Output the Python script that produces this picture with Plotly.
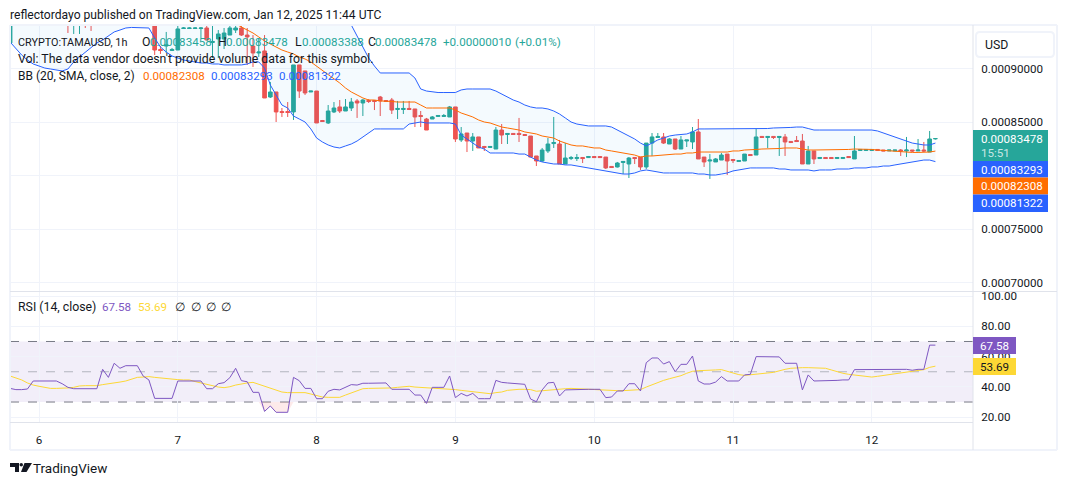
import pandas as pd
import plotly.graph_objects as go

UNIT = 1e-8
FONT = "Roboto"
WORD_SIZE = 12.3
DIGIT_SIZE = 11.6
INK = "#131722"
TEAL = "#26a69a"
RED = "#ef5350"
BLUE = "#2962ff"
ORANGE = "#ff6d00"
PURPLE = "#7e57c2"
YELLOW = "#fdd835"
GRID = "#f0f3fa"
FRAME = "#e0e3eb"

# Hourly TAMA/USD candles, prices in units of 1e-8
opens = [
    92430, 94580, 94400, 94300, 94800, 95100, 94800, 95000, 94600, 94400,
    95140, 94580, 95140, 95510, 95140, 94580, 95200, 95700, 95300, 95000,
    95500, 95900, 95400, 95700, 95200, 95700, 91820, 92140, 91720, 91770,
    93780, 93780, 93780, 93780, 93830, 92470, 92800, 92800, 93170, 93640,
    93830, 93170, 92140, 91490, 91680, 87370, 87840, 86010, 86010, 85970,
    90370, 89810, 87840, 87930, 85170, 84940, 85970, 86440, 86060, 86340,
    87000, 86810, 87040, 87040, 87370, 87040, 87090, 86200, 86200, 86300,
    86250, 85640, 85310, 85310, 85550, 85550, 85500, 86440, 83350, 84000,
    83250, 83630, 82740, 82650, 82500, 84280, 83860, 83960, 83960, 83860,
    83720, 81850, 81380, 82320, 83010, 82970, 81100, 81610, 81610, 81710,
    81700, 81800, 81800, 81750, 80870, 80820, 81240, 81100, 81710, 81750,
    80820, 83060, 83580, 83630, 82970, 83440, 82500, 83250, 83160, 84100,
    81750, 81380, 81290, 81470, 82030, 81520, 81330, 81380, 81990, 81940,
    83680, 83580, 83680, 83580, 83630, 83210, 83300, 83250, 81100, 82320,
    81610, 81710, 81710, 81610, 81610, 81800, 81570, 82360, 82360, 82360,
    82460, 82410, 82320, 82320, 82410, 82320, 82410, 82320, 82410, 82220,
    83458,
]
highs = [
    95050, 94800, 94700, 94900, 95300, 95400, 95200, 95200, 94900, 94700,
    95510, 95700, 95890, 95700, 95700, 95500, 95900, 96000, 95600, 95800,
    96200, 96100, 96000, 95900, 95900, 95980, 92140, 93460, 91960, 94020,
    93920, 93900, 93900, 93920, 94020, 94020, 93640, 93830, 94020, 94020,
    94020, 93830, 93170, 92890, 93170, 88780, 87840, 86340, 86900, 90370,
    90370, 89810, 87930, 87930, 85220, 86620, 86900, 87090, 87180, 87280,
    87180, 87180, 87180, 87090, 87470, 87090, 87280, 87000, 87000, 87000,
    86250, 86060, 85410, 85590, 85640, 85780, 86530, 86440, 84560, 84000,
    84000, 83630, 82790, 82740, 84560, 84840, 83960, 83960, 85410, 83860,
    83720, 81850, 82600, 83530, 85500, 83350, 83060, 81850, 82030, 81710,
    81850, 81800, 81800, 81750, 80870, 81290, 81340, 81750, 81710, 81750,
    83060, 84000, 84000, 84000, 83530, 83440, 83720, 83350, 84560, 85310,
    81750, 82030, 81660, 82130, 82030, 81520, 81430, 82030, 81990, 84380,
    83680, 83680, 83680, 83680, 83910, 83250, 83720, 83910, 82790, 82320,
    81710, 81710, 81710, 81750, 81750, 81800, 83720, 82460, 82460, 82460,
    82460, 82410, 82410, 82410, 82500, 83630, 82410, 83440, 83160, 84190,
    83478,
]
lows = [
    92240, 94300, 94150, 94200, 94700, 94700, 94500, 94400, 94200, 94100,
    93360, 93270, 93270, 93830, 93550, 94300, 95000, 95100, 94800, 94800,
    95300, 95200, 95100, 95000, 94900, 91300, 91400, 91490, 91680, 91770,
    93740, 93740, 93740, 92890, 92710, 91020, 91020, 91860, 93170, 93360,
    93080, 90370, 90180, 91120, 87280, 87280, 85030, 85500, 85500, 85220,
    87280, 87560, 87840, 84940, 85030, 84840, 85870, 85870, 86060, 86060,
    85410, 85590, 86810, 86150, 85590, 86900, 85780, 85310, 85780, 86150,
    84560, 84560, 84280, 85310, 85550, 85500, 85500, 83160, 83160, 82220,
    82320, 82600, 82320, 82650, 82500, 82970, 82970, 83860, 83160, 83770,
    81750, 80910, 81290, 82130, 82600, 81100, 81100, 81470, 81380, 81190,
    81660, 81700, 81700, 80630, 80770, 80770, 80160, 79790, 81100, 80540,
    80630, 81850, 83580, 82970, 82970, 82410, 82500, 82690, 82500, 81570,
    80820, 79700, 81290, 81470, 80070, 81190, 81330, 81380, 81850, 81940,
    83580, 82600, 83440, 81850, 81850, 83060, 83160, 81100, 81100, 81100,
    81610, 81610, 81610, 81570, 81570, 81700, 81570, 82360, 82360, 82360,
    82360, 82320, 82320, 82320, 81850, 81750, 82220, 82320, 82220, 82220,
    83388,
]
closes = [
    94580, 94400, 94300, 94800, 95100, 94800, 95000, 94600, 94400, 94300,
    94390, 95330, 95510, 94770, 94580, 95200, 95700, 95300, 95000, 95500,
    95900, 95400, 95700, 95200, 95700, 91770, 91720, 92240, 91820, 93740,
    93830, 93830, 93830, 93830, 92710, 92570, 93270, 93360, 93830, 93830,
    93170, 92990, 91490, 91580, 87280, 87840, 85970, 85920, 85920, 90370,
    87930, 87750, 87930, 84940, 85080, 86060, 86340, 86060, 86440, 86900,
    86810, 87090, 86950, 86950, 87000, 86950, 86150, 86300, 86300, 86200,
    85500, 85550, 84280, 85500, 85640, 85640, 86440, 83440, 83910, 83250,
    83630, 82600, 82650, 82740, 84280, 83810, 83960, 83860, 83860, 83770,
    81750, 81380, 82410, 82970, 83110, 81100, 81660, 81710, 81710, 81610,
    81800, 81700, 81700, 80730, 80770, 81190, 81340, 81660, 81610, 80820,
    83060, 83630, 83680, 83060, 83440, 82500, 83350, 83350, 84100, 81570,
    81290, 81470, 81570, 81940, 81380, 81420, 81430, 82030, 81890, 83630,
    83580, 83680, 83580, 83680, 83160, 83110, 83200, 81100, 82320, 81570,
    81710, 81610, 81610, 81710, 81710, 81700, 82320, 82460, 82460, 82460,
    82360, 82320, 82410, 82410, 82320, 82410, 82320, 82410, 82320, 83440,
    83478,
]

# Bollinger bands (20, SMA, close, 2)
bb_upper = [
    98400, 98300, 98200, 98000, 97900, 97800, 97700, 97600, 97500, 97400,
    97400, 97500, 97600, 97700, 97800, 97900, 98000, 98000, 98000, 97900,
    97900, 97800, 97800, 97700, 97700, 97600, 97700, 97800, 97800, 97800,
    97800, 97900, 97900, 97900, 97900, 97900, 98000, 98000, 98000, 98000,
    98000, 98000, 98000, 97900, 97900, 97800, 97700, 97600, 97500, 97300,
    97100, 97000, 96900, 96700, 96600, 96500, 96300, 95800, 95140, 94110,
    92990, 91960, 91020, 90270, 89620, 89620, 89620, 89620, 89620, 89620,
    89150, 88120, 87930, 87840, 87790, 87790, 87790, 87790, 88030, 88120,
    88120, 88120, 88120, 88120, 87930, 87650, 87370, 87090, 86900, 86620,
    86440, 86340, 86340, 86250, 86060, 85780, 85410, 85030, 84840, 84750,
    84660, 84660, 84660, 84660, 84560, 84280, 84000, 83720, 83440, 83060,
    82790, 83060, 83350, 83530, 83720, 83810, 83860, 83910, 84100, 84380,
    84380, 84380, 84380, 84380, 84380, 84380, 84380, 84380, 84380, 84380,
    84380, 84420, 84470, 84470, 84520, 84520, 84560, 84560, 84420, 84280,
    84280, 84280, 84280, 84280, 84280, 84280, 84280, 84280, 84280, 84280,
    84190, 84000, 83810, 83630, 83440, 83250, 83060, 82970, 82880, 82880,
    83060, 83293,
][:161]
bb_mid = [
    95500, 95600, 95600, 95700, 95700, 95800, 95800, 95800, 95800, 95800,
    95800, 95800, 95800, 95800, 95800, 95700, 95700, 95700, 95700, 95700,
    95700, 95600, 95600, 95500, 95500, 95400, 95400, 95300, 95300, 95200,
    95100, 95000, 95000, 94900, 94900, 94800, 94700, 94500, 94300, 94200,
    93920, 93640, 93360, 92990, 92610, 92330, 92050, 91770, 91580, 91400,
    91120, 90930, 90650, 90270, 89810, 89430, 89060, 88680, 88210, 87840,
    87560, 87280, 87090, 87090, 87000, 87000, 86950, 86900, 86900, 86900,
    86900, 86620, 86340, 86340, 86340, 86340, 86340, 86150, 85870, 85690,
    85500, 85220, 85030, 84940, 84750, 84560, 84470, 84380, 84280, 84100,
    84000, 83910, 83720, 83630, 83530, 83250, 83060, 82880, 82790, 82790,
    82690, 82600, 82600, 82410, 82320, 82220, 82130, 82030, 81940, 81750,
    81850, 81850, 81900, 81940, 82030, 82030, 82030, 82130, 82130, 82220,
    82220, 82220, 82220, 82220, 82220, 82320, 82320, 82410, 82410, 82460,
    82500, 82500, 82550, 82550, 82600, 82600, 82600, 82500, 82410, 82410,
    82410, 82410, 82410, 82460, 82460, 82460, 82500, 82500, 82500, 82460,
    82410, 82360, 82320, 82270, 82220, 82180, 82180, 82180, 82180, 82220,
    82308,
]
bb_lower = [
    92520, 91860, 91300, 90830, 90460, 90270, 90080, 89990, 89900, 89810,
    89990, 90650, 91120, 91580, 92050, 92430, 92710, 93080, 93460, 93640,
    93830, 93880, 93880, 93880, 93830, 92890, 92050, 91580, 91210, 91020,
    90830, 90740, 90650, 90550, 90550, 90460, 90460, 90370, 90370, 90370,
    90370, 90460, 90650, 90650, 90080, 88490, 87560, 86620, 86340, 85590,
    85310, 85030, 84380, 83530, 83160, 82880, 82690, 82600, 82790, 82970,
    83250, 83630, 84000, 84380, 84380, 84380, 84380, 84380, 84380, 84840,
    84940, 85030, 84940, 84940, 84980, 84940, 84940, 84840, 83810, 83440,
    83060, 82690, 82500, 82130, 82130, 82130, 82130, 82130, 82030, 82030,
    81750, 81470, 81290, 81190, 81100, 81100, 81010, 81010, 80910, 80820,
    80730, 80630, 80540, 80450, 80350, 80260, 80160, 80160, 80260, 80450,
    80540, 80450, 80350, 80260, 80260, 80260, 80260, 80260, 80260, 80160,
    80160, 80070, 80070, 80160, 80260, 80450, 80540, 80630, 80730, 80730,
    80730, 80730, 80730, 80630, 80630, 80540, 80540, 80540, 80540, 80450,
    80540, 80540, 80540, 80630, 80630, 80630, 80730, 80730, 80730, 80820,
    80820, 80910, 80910, 81010, 81100, 81190, 81290, 81380, 81470, 81470,
    81322,
]

# RSI (14, close) and its smoothing line
rsi = [
    39.0, 38.2, 38.2, 38.6, 43.9, 43.9, 43.9, 43.9, 43.9, 42.1,
    39.7, 38.8, 38.8, 38.8, 38.8, 38.8, 51.6, 46.3, 55.6, 52.3,
    54.0, 54.0, 54.0, 47.2, 44.6, 32.4, 32.4, 32.4, 32.4, 43.9,
    43.9, 43.9, 43.9, 43.9, 38.8, 38.8, 42.1, 42.8, 46.1, 52.3,
    44.1, 43.4, 36.4, 36.4, 23.8, 27.4, 23.2, 23.2, 23.2, 46.3,
    44.1, 39.0, 39.0, 32.2, 32.2, 37.1, 38.4, 38.0, 39.7, 41.5,
    41.2, 42.4, 42.4, 42.4, 42.6, 42.6, 38.4, 38.4, 38.4, 38.4,
    34.6, 34.6, 29.1, 39.7, 39.7, 39.7, 47.2, 32.9, 35.7, 34.0,
    35.7, 32.2, 32.2, 32.2, 44.3, 43.0, 42.6, 42.4, 42.1, 41.7,
    32.0, 30.2, 38.0, 42.6, 43.0, 34.0, 38.0, 38.2, 38.2, 38.4,
    38.4, 38.4, 38.4, 32.9, 33.3, 37.3, 37.3, 42.1, 42.1, 37.3,
    56.0, 59.1, 59.1, 55.1, 56.7, 50.0, 54.9, 54.9, 60.4, 43.9,
    41.9, 41.9, 43.2, 46.8, 43.9, 43.9, 43.9, 47.9, 48.3, 60.0,
    60.0, 60.0, 59.8, 59.8, 55.6, 55.6, 55.6, 38.0, 47.9, 43.9,
    43.9, 43.9, 44.1, 44.3, 44.6, 44.6, 51.4, 51.4, 51.4, 51.4,
    51.6, 51.6, 51.6, 51.6, 51.6, 51.6, 51.0, 51.6, 51.6, 67.6,
    67.58,
]
rsi_ma = [
    47.2, 45.9, 44.6, 42.6, 41.2, 40.4, 39.7, 39.0, 39.0, 39.0,
    39.3, 39.7, 40.6, 40.8, 40.8, 40.8, 41.5, 41.9, 42.6, 43.2,
    43.9, 45.0, 46.3, 46.5, 46.8, 46.3, 45.9, 45.2, 44.8, 44.8,
    44.6, 44.6, 43.5, 42.6, 41.7, 40.6, 39.9, 39.5, 40.1, 41.2,
    42.1, 42.6, 43.0, 41.7, 40.4, 39.0, 38.0, 36.6, 36.2, 36.2,
    36.2, 36.2, 35.3, 34.2, 33.3, 33.1, 33.1, 33.1, 34.6, 36.0,
    37.5, 38.8, 39.0, 39.0, 39.0, 39.0, 39.3, 39.7, 40.1, 40.4,
    39.9, 39.7, 39.5, 39.3, 39.0, 38.8, 38.6, 38.2, 37.7, 37.3,
    36.9, 36.4, 36.0, 35.5, 36.2, 36.6, 37.7, 38.2, 38.4, 38.4,
    38.2, 37.1, 37.5, 38.0, 38.4, 38.6, 38.8, 39.0, 38.8, 38.6,
    38.4, 38.2, 38.2, 37.5, 37.3, 37.5, 37.5, 37.7, 37.7, 38.2,
    39.9, 41.5, 42.8, 44.3, 45.4, 46.3, 47.4, 49.0, 50.3, 50.7,
    51.0, 51.0, 51.2, 51.4, 50.3, 49.2, 48.1, 47.6, 48.1, 48.3,
    48.7, 49.2, 49.6, 50.7, 51.6, 52.3, 52.7, 52.7, 52.7, 52.5,
    52.5, 52.3, 51.2, 49.9, 49.0, 48.3, 47.9, 47.2, 46.8, 46.5,
    47.0, 47.6, 48.1, 48.7, 49.4, 50.0, 50.5, 51.0, 51.4, 52.9,
    53.69,
]

day_labels = ["6", "7", "8", "9", "10", "11", "12"]
price_ticks = [70000, 75000, 80000, 85000, 90000]
price_tick_labels = ["0.00070000", "0.00075000", "", "0.00085000", "0.00090000"]
rsi_ticks = [20, 40, 60, 80, 100]
ohlc_values = ["0.00083458", "0.00083478", "0.00083388", "0.00083478"]
change_text = "+0.00000010"
change_pct = "(+0.01%)"
last_price = "0.00083478"
countdown = "15:51"
bb_mid_last = "0.00082308"
bb_upper_last = "0.00083293"
bb_lower_last = "0.00081322"
rsi_last = "67.58"
rsi_ma_last = "53.69"

times = pd.date_range("2025-01-05 19:00", periods=len(opens), freq="h")


def scaled(values):
    return [v * UNIT for v in values]


# Plot area and pixel helpers for the chrome around the panes
LEFT, RIGHT, TOP, BOTTOM = 10, 973, 26, 422


def xp(px):
    return (px - LEFT) / (RIGHT - LEFT)


def yp(py):
    return (BOTTOM - py) / (BOTTOM - TOP)


fig = go.Figure()

fig.add_trace(go.Candlestick(
    x=times, open=scaled(opens), high=scaled(highs), low=scaled(lows), close=scaled(closes),
    increasing=dict(line=dict(color=TEAL, width=1), fillcolor=TEAL),
    decreasing=dict(line=dict(color=RED, width=1), fillcolor=RED),
    xaxis="x", yaxis="y", showlegend=False,
))
fig.add_trace(go.Scatter(x=times, y=scaled(bb_upper), mode="lines", xaxis="x", yaxis="y",
                         line=dict(color=BLUE, width=1), showlegend=False))
fig.add_trace(go.Scatter(x=times, y=scaled(bb_lower), mode="lines", xaxis="x", yaxis="y",
                         line=dict(color=BLUE, width=1), fill="tonexty",
                         fillcolor="rgba(33,150,243,0.05)", showlegend=False))
fig.add_trace(go.Scatter(x=times, y=scaled(bb_mid), mode="lines", xaxis="x", yaxis="y",
                         line=dict(color=ORANGE, width=1), showlegend=False))

# Oversold shading between the 30 line and the RSI
fig.add_trace(go.Scatter(x=times, y=[30] * len(rsi), mode="lines", xaxis="x2", yaxis="y2",
                         line=dict(width=0), showlegend=False))
fig.add_trace(go.Scatter(x=times, y=[min(v, 30) for v in rsi], mode="lines", xaxis="x2", yaxis="y2",
                         line=dict(width=0), fill="tonexty",
                         fillcolor="rgba(239,83,80,0.12)", showlegend=False))
fig.add_trace(go.Scatter(x=times, y=rsi_ma, mode="lines", xaxis="x2", yaxis="y2",
                         line=dict(color=YELLOW, width=1), showlegend=False))
fig.add_trace(go.Scatter(x=times, y=rsi, mode="lines", xaxis="x2", yaxis="y2",
                         line=dict(color=PURPLE, width=1), showlegend=False))

shapes = []

# RSI band and its reference levels
shapes.append(dict(type="rect", xref="x2 domain", yref="y2", x0=0, x1=1, y0=30, y1=70,
                   fillcolor="rgba(126,87,194,0.1)", line_width=0, layer="below"))
for level, colour in ((70, "#787b86"), (50, "#b2b5be"), (30, "#787b86")):
    shapes.append(dict(type="line", xref="x2 domain", yref="y2", x0=0, x1=1, y0=level, y1=level,
                       line=dict(color=colour, width=1, dash="dash"), layer="below"))


def pixel_line(x0, y0, x1, y1, colour=FRAME, width=1):
    shapes.append(dict(type="line", xref="paper", yref="paper", x0=xp(x0), y0=yp(y0), x1=xp(x1), y1=yp(y1),
                       line=dict(color=colour, width=width)))


def pixel_rect(x0, y0, x1, y1, colour):
    shapes.append(dict(type="rect", xref="paper", yref="paper", x0=xp(x0), y0=yp(y0), x1=xp(x1), y1=yp(y1),
                       fillcolor=colour, line_width=0))


# Panel frame
pixel_line(10, 25, 1057, 25, GRID, 2)
pixel_line(10, 25, 10, 450, GRID, 2)
pixel_line(1057, 25, 1057, 450, GRID, 2)
pixel_line(10, 450, 1057, 450, GRID, 2)
pixel_line(973, 25, 973, 450)
pixel_line(10, 291.5, 1057, 291.5)
pixel_line(10, 422.5, 973, 422.5)

# Last-value tags on the scales
pixel_rect(973, 130, 1048, 161, TEAL)
pixel_rect(973, 161, 1048, 177.5, BLUE)
pixel_rect(973, 177.5, 1048, 194.5, ORANGE)
pixel_rect(973, 194.5, 1048, 212, BLUE)
pixel_rect(973, 337, 1016, 354, PURPLE)
pixel_rect(973, 358, 1016, 375, YELLOW)

# Currency button
shapes.append(dict(type="path", xref="paper", yref="paper",
                   path=("M {} {} L {} {} Q {} {} {} {} L {} {} Q {} {} {} {} L {} {} Q {} {} {} {} L {} {} Q {} {} {} {} Z"
                         .format(xp(980), yp(32), xp(1050), yp(32), xp(1054), yp(32), xp(1054), yp(36),
                                 xp(1054), yp(53), xp(1054), yp(57), xp(1050), yp(57),
                                 xp(980), yp(57), xp(976), yp(57), xp(976), yp(53),
                                 xp(976), yp(36), xp(976), yp(32), xp(980), yp(32))),
                   line=dict(color=GRID, width=2), fillcolor="white"))

# Brand mark in the footer
LOGO = "#131722"
pixel_rect(10, 463, 19, 467, LOGO)
pixel_rect(15, 463, 19, 472, LOGO)
shapes.append(dict(type="circle", xref="paper", yref="paper", x0=xp(19.5), x1=xp(23), y0=yp(463), y1=yp(466.5),
                   fillcolor=LOGO, line_width=0))
shapes.append(dict(type="path", xref="paper", yref="paper",
                   path="M {} {} L {} {} L {} {} L {} {} Z".format(
                       xp(24.5), yp(463), xp(32), yp(463), xp(26.5), yp(472), xp(21), yp(472)),
                   fillcolor=LOGO, line_width=0))

annotations = []


def label(px, py, text, colour=INK, size=WORD_SIZE):
    annotations.append(dict(xref="paper", yref="paper", x=xp(px - 1), y=yp(py), text=text, showarrow=False,
                            xanchor="left", yanchor="middle", borderpad=0,
                            font=dict(family=FONT, size=size, color=colour)))


label(10, 14.5, "reflectordayo published on TradingView.com, Jan 12, 2025 11:44 UTC", size=12.1)
label(33, 467.5, "TradingView", size=13.5)

label(18, 42, "CRYPTO:TAMAUSD, 1h", size=10.8)
for px, letter in ((142, "O"), (218, "H"), (295, "L"), (368, "C")):
    label(px, 42, letter)
for px, value in zip((150, 226, 302, 375), ohlc_values):
    label(px, 42, value, TEAL, DIGIT_SIZE)
label(443, 42, change_text, TEAL, DIGIT_SIZE)
label(515, 42, change_pct, TEAL, DIGIT_SIZE)
label(18, 59, "Vol: The data vendor doesn't provide volume data for this symbol.")
label(18, 76, "BB (20, SMA, close, 2)", size=12)
label(143, 76, bb_mid_last, ORANGE, DIGIT_SIZE)
label(211, 76, bb_upper_last, BLUE, DIGIT_SIZE)
label(279, 76, bb_lower_last, BLUE, DIGIT_SIZE)

label(18, 307, "RSI (14, close)")
label(102, 307, rsi_last, PURPLE, DIGIT_SIZE)
label(138, 307, rsi_ma_last, YELLOW, DIGIT_SIZE)
for px in (175, 191, 206, 221):
    label(px, 307, "∅")

label(985, 45, "USD")
label(981, 139, last_price, "white", DIGIT_SIZE)
label(981, 153, countdown, "rgba(255,255,255,0.75)", DIGIT_SIZE)
label(981, 169.5, bb_upper_last, "white", DIGIT_SIZE)
label(981, 186, bb_mid_last, "white", DIGIT_SIZE)
label(981, 203, bb_lower_last, "white", DIGIT_SIZE)
label(980, 345.5, rsi_last, "white", DIGIT_SIZE)
label(980, 366.5, rsi_ma_last, INK, DIGIT_SIZE)

x_range = ["2025-01-05 18:59", "2025-01-12 17:30"]
tick_dates = pd.date_range("2025-01-06", periods=len(day_labels), freq="D")

fig.update_layout(
    width=1068, height=485, autosize=False,
    margin=dict(l=LEFT, r=1068 - RIGHT, t=TOP, b=485 - BOTTOM, pad=0),
    paper_bgcolor="white", plot_bgcolor="white",
    font=dict(family=FONT, size=DIGIT_SIZE, color=INK),
    boxgap=0.1,
    shapes=shapes, annotations=annotations, hovermode=False,
    xaxis=dict(domain=[0, 1], anchor="y", range=x_range, rangeslider=dict(visible=False),
               showticklabels=False, tickvals=tick_dates, gridcolor=GRID, ticks="", zeroline=False),
    yaxis=dict(domain=[yp(291), 1], anchor="x", side="right",
               range=[69212 * UNIT, 94016 * UNIT],
               tickvals=scaled(price_ticks), ticktext=price_tick_labels, gridcolor=GRID,
               ticks="outside", ticklen=5, tickcolor="rgba(0,0,0,0)", zeroline=False),
    xaxis2=dict(domain=[0, 1], anchor="y2", range=x_range, tickvals=tick_dates, ticktext=day_labels,
                gridcolor=GRID, ticks="outside", ticklen=7, tickcolor="rgba(0,0,0,0)", zeroline=False),
    yaxis2=dict(domain=[0, yp(292)], anchor="x2", side="right", range=[16.8, 102.7],
                tickvals=rsi_ticks, tickformat=".2f", gridcolor=GRID,
                ticks="outside", ticklen=5, tickcolor="rgba(0,0,0,0)", zeroline=False),
)

fig.write_html("out.html")
